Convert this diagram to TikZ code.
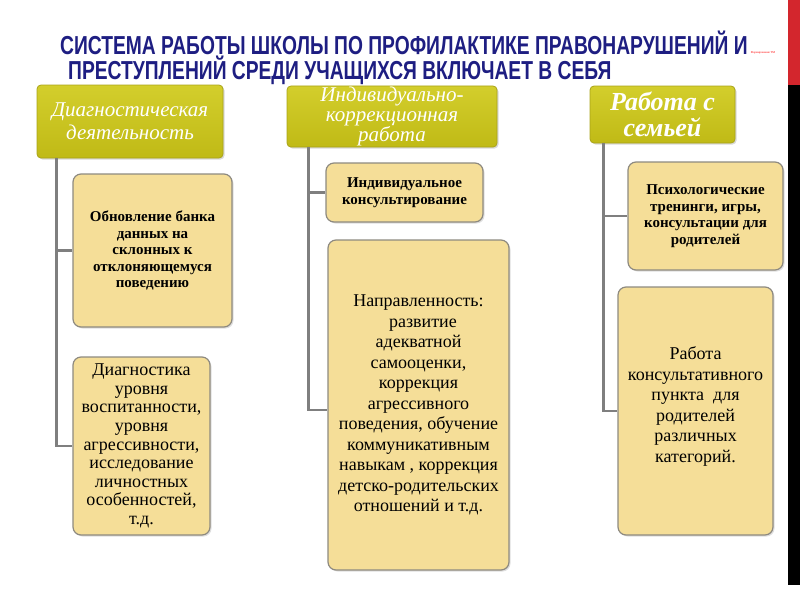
\documentclass[tikz,border=0pt]{standalone}
\usepackage{fontspec}
\setmainfont{Liberation Serif}
\newfontfamily\titlefont[FakeStretch=0.74]{Liberation Sans}
\usetikzlibrary{shadows}
\definecolor{titleblue}{HTML}{1E1E82}
\definecolor{headtop}{HTML}{D3CE2C}
\definecolor{headbot}{HTML}{C0BA16}
\definecolor{headedge}{HTML}{A9A31A}
\definecolor{itemfill}{HTML}{F5DE98}
\definecolor{itemedge}{HTML}{8E8A80}
\definecolor{linkgray}{HTML}{7F7F7F}
\definecolor{bandred}{HTML}{D3262D}

\begin{document}
\begin{tikzpicture}[x=1pt, y=-1pt,
  titletext/.style={text=titleblue, inner sep=0pt, align=left,
    font=\titlefont\bfseries\fontsize{26}{23.5}\selectfont},
  headbox/.style={rounded corners=4pt, draw=headedge, line width=0.8pt,
    top color=headtop, bottom color=headbot, text=white, align=center,
    inner sep=1pt,
    drop shadow={shadow xshift=1.5pt, shadow yshift=-1.5pt, opacity=0.3}},
  headtext/.style={font=\itshape\fontsize{21}{23}\selectfont},
  itembox/.style={rounded corners=8pt, draw=itemedge, line width=1.2pt,
    fill=itemfill, text=black, align=center, inner sep=1pt,
    drop shadow={shadow xshift=1.5pt, shadow yshift=-1.5pt, opacity=0.25}},
  boldtext/.style={font=\bfseries\fontsize{15}{16.5}\selectfont},
  plaintext/.style={font=\fontsize{18}{20.5}\selectfont},
  link/.style={draw=linkgray, line width=2.5pt}]

  \useasboundingbox (0,0) rectangle (800,600);

  % ============== Side band ==============
  \fill[bandred] (788,0) rectangle (800,85);
  \fill[black] (788,85) rectangle (800,585);
  \node[text=red, inner sep=0pt, font=\fontsize{3}{3}\selectfont] (note) at (763,53)
    {Формирование ТМ};

  % ============== Title ==============
  \node[titletext, anchor=north west] (title) at (60,31)
    {СИСТЕМА РАБОТЫ ШКОЛЫ ПО ПРОФИЛАКТИКЕ ПРАВОНАРУШЕНИЙ И\\
     \hspace{8pt}ПРЕСТУПЛЕНИЙ СРЕДИ УЧАЩИХСЯ ВКЛЮЧАЕТ В СЕБЯ};

  % ============== Column 1: diagnostics ==============
  \node[headbox, headtext, minimum width=186pt, minimum height=73pt] (diag)
    at (130,121.5) {Диагностическая\\деятельность};
  \node[itembox, boldtext, minimum width=159pt, minimum height=153pt] (bank)
    at (152.5,250.5) {Обновление банка\\данных на\\склонных к\\отклоняющемуся\\поведению};
  \node[itembox, plaintext, minimum width=137pt, minimum height=178pt,
    font=\fontsize{18}{18.6}\selectfont] (level)
    at (141.5,446) {Диагностика\\уровня\\воспитанности,\\уровня\\агрессивности,\\исследование\\личностных\\особенностей,\\т.д.};

  \coordinate (trunk1) at ([xshift=20pt]diag.south west);
  \draw[link] (trunk1) |- (bank.west);
  \draw[link] (trunk1) |- (level.west);

  % ============== Column 2: individual work ==============
  \node[headbox, headtext, minimum width=210pt, minimum height=61pt,
    font=\itshape\fontsize{21}{20}\selectfont] (indiv)
    at (392,116.5) {Индивидуально-\\коррекционная\\работа};
  \node[itembox, boldtext, minimum width=157pt, minimum height=59pt] (consult)
    at (404.5,192.5) {Индивидуальное\\консультирование};
  \node[itembox, plaintext, minimum width=181pt, minimum height=330pt] (focus)
    at (418.5,405) {Направленность:\\\ \ развитие\\адекватной\\самооценки,\\коррекция\\агрессивного\\поведения, обучение\\коммуникативным\\навыкам , коррекция\\детско-родительских\\отношений и т.д.};

  \coordinate (trunk2) at ([xshift=22pt]indiv.south west);
  \draw[link] (trunk2) |- (consult.west);
  \draw[link] (trunk2) |- ([yshift=-5pt]focus.west);

  % ============== Column 3: family work ==============
  \node[headbox, minimum width=145pt, minimum height=57pt,
    font=\bfseries\itshape\fontsize{26}{26}\selectfont] (family)
    at (662.5,114.5) {Работа с\\семьей};
  \node[itembox, boldtext, minimum width=155pt, minimum height=108pt] (train)
    at (705.5,216) {Психологические\\тренинги, игры,\\консультации для\\родителей};
  \node[itembox, plaintext, minimum width=155pt, minimum height=248pt] (point)
    at (695.5,411) {Работа\\консультативного\\пункта\ \ для\\родителей\\различных\\категорий.\\[-8pt]};

  \coordinate (trunk3) at ([xshift=14pt]family.south west);
  \draw[link] (trunk3) |- (train.west);
  \draw[link] (trunk3) |- (point.west);

\end{tikzpicture}
\end{document}
